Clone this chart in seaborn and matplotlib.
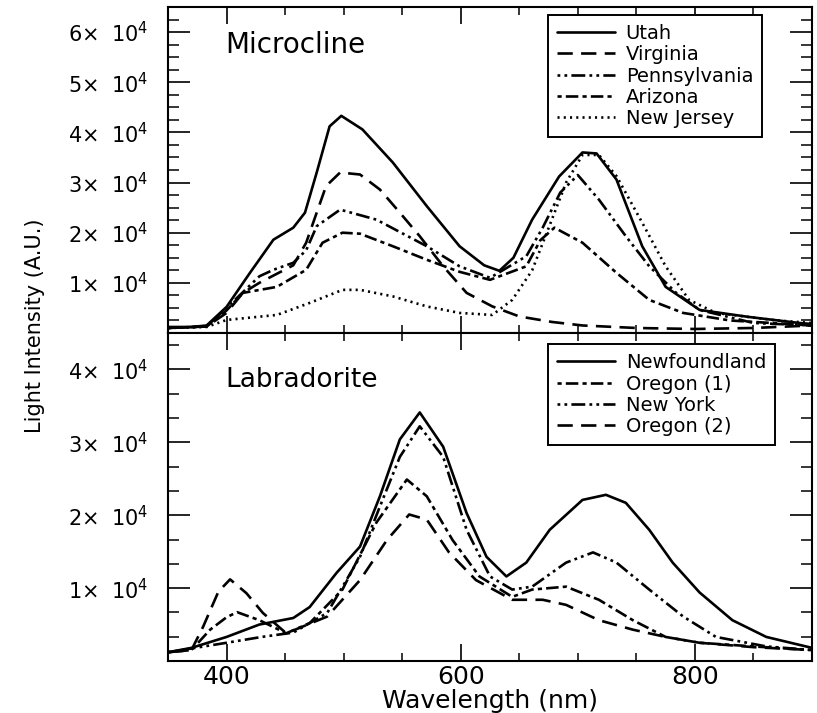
import matplotlib
matplotlib.use("Agg")
import matplotlib.pyplot as plt
import seaborn as sns
from matplotlib.ticker import FixedLocator, MultipleLocator, FuncFormatter

# ---------------- data ----------------
# Microcline panel
utah_wl = [350, 370, 383, 400, 420, 440, 457, 467, 477, 488, 498, 516, 542, 571, 599, 620, 633, 645, 661, 684, 704, 716, 733, 755, 775, 804, 846, 889, 900]
utah_val = [1200, 1200, 1500, 5200, 12000, 18600, 21000, 24000, 32000, 41200, 43300, 40600, 34000, 25300, 17300, 13500, 12400, 15000, 22600, 31200, 36000, 35800, 30600, 17300, 9200, 4600, 3200, 2000, 1800]

virginia_wl = [350, 383, 400, 414, 428, 457, 468, 477, 485, 497, 514, 531, 548, 565, 585, 605, 627, 650, 678, 704, 750, 800, 850, 900]
virginia_val = [1000, 1300, 4000, 8000, 10000, 13500, 18000, 24000, 29300, 32000, 31600, 28600, 24000, 19300, 13300, 8000, 5300, 3300, 2200, 1500, 1000, 800, 1000, 1500]

penn_wl = [350, 383, 400, 428, 440, 457, 468, 477, 497, 528, 571, 599, 625, 656, 670, 685, 700, 718, 741, 761, 784, 804, 850, 900]
penn_val = [1000, 1300, 5000, 11300, 12600, 14000, 16500, 21300, 24600, 22600, 17300, 13300, 11000, 15300, 21000, 28000, 31500, 26600, 19300, 13300, 8000, 4600, 2000, 1500]

arizona_wl = [350, 383, 400, 414, 443, 468, 482, 499, 514, 542, 571, 599, 625, 656, 668, 680, 704, 733, 761, 790, 830, 900]
arizona_val = [1000, 1300, 4500, 8000, 9200, 12600, 18000, 20000, 19800, 17300, 14600, 12200, 10600, 13300, 18500, 21000, 18000, 12000, 6600, 4000, 2500, 1500]

nj_wl = [350, 383, 400, 443, 471, 499, 514, 542, 571, 599, 627, 644, 661, 676, 690, 704, 718, 733, 755, 775, 795, 818, 870, 900]
nj_val = [1000, 1200, 2600, 3600, 6000, 8600, 8600, 7300, 5300, 4000, 3600, 6600, 12500, 21500, 30000, 35500, 35500, 31300, 22000, 13300, 6600, 4000, 2500, 2000]

# Labradorite panel
newf_wl = [350, 370, 400, 428, 457, 471, 494, 514, 531, 548, 565, 585, 605, 622, 639, 656, 676, 704, 724, 741, 761, 781, 804, 832, 861, 900]
newf_val = [1200, 1800, 3300, 5000, 5900, 7400, 12100, 15700, 22600, 30400, 34100, 29400, 20300, 14300, 11600, 13500, 18000, 22100, 22800, 21700, 18000, 13500, 9400, 5600, 3300, 1800]

or1_wl = [350, 370, 386, 400, 409, 428, 451, 471, 499, 528, 554, 571, 593, 616, 644, 661, 690, 718, 747, 775, 804, 850, 900]
or1_val = [1200, 1500, 4300, 6000, 6700, 5600, 3800, 5200, 9800, 19000, 24900, 22600, 16600, 11600, 8800, 9800, 10200, 8400, 5600, 3300, 2500, 2000, 1500]

ny_wl = [350, 400, 430, 457, 486, 514, 531, 548, 565, 585, 605, 625, 644, 661, 690, 713, 733, 761, 790, 818, 861, 900]
ny_val = [1200, 2500, 3300, 3900, 6600, 14300, 21200, 28000, 32200, 28000, 18000, 11600, 9800, 10200, 13500, 14900, 13500, 9800, 6100, 3300, 2000, 1500]

or2_wl = [350, 370, 380, 393, 403, 417, 431, 451, 486, 514, 537, 556, 571, 590, 613, 644, 670, 690, 718, 747, 775, 804, 850, 900]
or2_val = [1200, 1500, 4700, 9500, 11200, 9300, 6600, 3800, 6100, 11100, 16600, 20100, 19400, 14900, 11100, 8400, 8400, 7700, 5600, 4300, 3300, 2500, 1900, 1500]

top_labels = ["Utah", "Virginia", "Pennsylvania", "Arizona", "New Jersey"]
bottom_labels = ["Newfoundland", "Oregon (1)", "New York", "Oregon (2)"]
top_yticks = [10000, 20000, 30000, 40000, 50000, 60000]
bottom_yticks = [10000, 20000, 30000, 40000]
xticks = [400, 600, 800]

# ---------------- styling ----------------
sns.set_style("ticks")
plt.rcParams['font.family'] = ['DejaVu Sans']
plt.rcParams['mathtext.default'] = 'regular'
plt.rcParams['lines.scale_dashes'] = False
plt.rcParams['text.color'] = 'black'
plt.rcParams['axes.labelcolor'] = 'black'
plt.rcParams['xtick.color'] = 'black'
plt.rcParams['ytick.color'] = 'black'

SOLID = '-'
DASH = (0, (11, 6))
DASHDOTDOT = (0, (2, 3, 2, 3, 10, 3))
DASHDOT = (0, (3, 3, 9, 3))
DOT = (0, (1.5, 3))

fig = plt.figure(figsize=(8.17, 7.13), dpi=100)
ax1 = fig.add_axes([168/817, (713-333)/713, 644/817, 326/713])
ax2 = fig.add_axes([168/817, (713-661)/713, 644/817, 328/713])

top_series = [(utah_wl, utah_val, SOLID), (virginia_wl, virginia_val, DASH),
              (penn_wl, penn_val, DASHDOTDOT), (arizona_wl, arizona_val, DASHDOT),
              (nj_wl, nj_val, DOT)]
bottom_series = [(newf_wl, newf_val, SOLID), (or1_wl, or1_val, DASHDOT),
                 (ny_wl, ny_val, DASHDOTDOT), (or2_wl, or2_val, DASH)]

for ax, series, labels in ((ax1, top_series, top_labels), (ax2, bottom_series, bottom_labels)):
    for (wl, val, ls), lab in zip(series, labels):
        sns.lineplot(x=wl, y=val, ax=ax, color='black', linewidth=1.9,
                     linestyle=ls, label=lab, sort=False, estimator=None)

fmt = FuncFormatter(lambda v, p: r"$%d{\times}\;\ 10^{4}$" % int(round(v / 1e4)))

for ax in (ax1, ax2):
    ax.set_xlim(350, 900)
    ax.xaxis.set_major_locator(FixedLocator(xticks))
    ax.xaxis.set_minor_locator(MultipleLocator(50))
    ax.tick_params(axis='both', which='both', direction='in', top=True, right=True, colors='black')
    ax.tick_params(axis='x', which='major', length=12, width=1.2, labelsize=18, pad=3)
    ax.tick_params(axis='x', which='minor', length=6, width=1.1)
    ax.tick_params(axis='y', which='major', length=16, width=1.2, labelsize=15, pad=14)
    ax.tick_params(axis='y', which='minor', length=8, width=1.1)
    ax.yaxis.set_major_formatter(fmt)
    for s in ax.spines.values():
        s.set_linewidth(1.5)
        s.set_color('black')
    ax.set_xlabel('')
    ax.set_ylabel('')

ax1.set_ylim(0, 65000)
ax1.yaxis.set_major_locator(FixedLocator(top_yticks))
ax1.yaxis.set_minor_locator(MultipleLocator(2500))
ax1.tick_params(axis='x', labelbottom=False)

ax2.set_ylim(0, 45000)
ax2.yaxis.set_major_locator(FixedLocator(bottom_yticks))
ax2.yaxis.set_minor_locator(MultipleLocator(10000/3))

for ax, anchor in ((ax1, (0.59, 0.975)), (ax2, (0.59, 0.965))):
    leg = ax.legend(loc='upper left', bbox_to_anchor=anchor, fontsize=14,
                    handlelength=3.0, handletextpad=0.55, labelspacing=0.12,
                    borderpad=0.45, borderaxespad=0, frameon=True, fancybox=False,
                    edgecolor='black', framealpha=1)
    leg.get_frame().set_linewidth(1.4)
    for t in leg.get_texts():
        t.set_color('black')

ax1.text(0.0885, 0.883, "Microcline", transform=ax1.transAxes, fontsize=20, va='center', ha='left')
ax2.text(0.0885, 0.857, "Labradorite", transform=ax2.transAxes, fontsize=19, va='center', ha='left')

fig.text(35/817, 1-326/713, "Light Intensity (A.U.)", rotation=90, ha='center', va='center', fontsize=15)
fig.text(490/817, 1-701/713, "Wavelength (nm)", ha='center', va='center', fontsize=18)

fig.savefig("out.png", dpi=100)
